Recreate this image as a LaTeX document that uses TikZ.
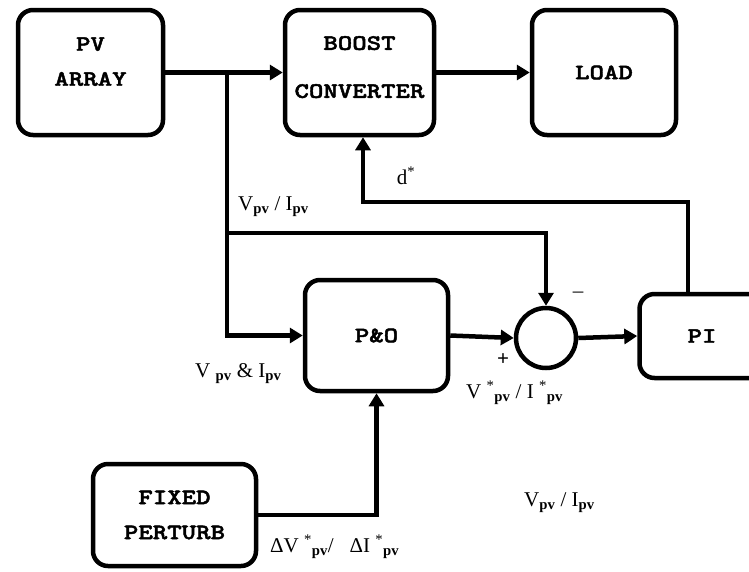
\documentclass[tikz,border=0pt]{standalone}
\usepackage{fontspec}
\setmainfont{Liberation Serif}
\newfontfamily\boxfont{lmmonolt10-bold.otf}[FakeStretch=1.25,FakeBold=2]
\usetikzlibrary{arrows.meta,positioning,calc}
\newcommand{\pvsub}{\textsubscript{\textbf{pv}}}
\newcommand{\pvstar}{\textsuperscript{*}\textsubscript{\textbf{pv}}}
\tikzset{
  blk/.style ={rectangle, rounded corners=15pt, draw=black, line width=4.5pt,
               align=center, inner sep=0pt,
               font=\boxfont\fontsize{22}{35}\selectfont},
  sumnode/.style={circle, draw=black, line width=4.5pt, minimum size=60pt, inner sep=0pt},
  sigline/.style={line width=4.5pt, line join=miter},
  sigarr/.style ={sigline, -{Triangle[length=13pt,width=15pt]}},
  siglbl/.style ={font=\fontsize{21}{23}\selectfont, inner sep=0pt},
}
\begin{document}
\begin{tikzpicture}[x=1pt, y=-1pt]
\useasboundingbox (0,0) rectangle (749,571);
% blocks
\node[blk, minimum width=145pt, minimum height=125pt, text depth=22pt] (pv) at (90.5,72.5) {PV\\ARRAY};
\node[blk, minimum width=149pt, minimum height=125pt, text depth=11pt] (boost) at (359.5,72.5) {BOOST\\[13pt]CONVERTER};
\node[blk, minimum width=144pt, minimum height=125pt] (load) at (604,72.5) {LOAD};
\node[blk, minimum width=143pt, minimum height=111pt] (po) at (376.5,335.5) {P\&O};
\node[sumnode] (sum) at (546,338) {};
\node[blk, minimum width=125pt, minimum height=84pt] (pi) at (702,336) {PI};
\node[blk, minimum width=163pt, minimum height=102pt] (fixed) at (174.5,515) {FIXED\\PERTURB};
% signal paths
\coordinate (jtap) at (227,72.5);
\coordinate (jmid) at (227,233);
\coordinate (fbtop) at (688,202);
\coordinate (fbleft) at (363,202);
\draw[sigarr] (pv.east) -- (boost.west);
\draw[sigarr] (boost.east) -- (load.west);
\draw[sigarr] (jtap) |- (po.west);
\draw[sigarr] (jmid) -| (sum.north);
\draw[sigarr] (po.east) -- (sum.west);
\draw[sigarr] (sum.east) -- (pi.west);
\draw[sigarr] (fbtop |- pi.north) -- (fbtop) -- (fbleft) -- (fbleft |- boost.south);
\draw[sigarr] (fixed.east) -| (po.south);
% labels
\node[siglbl, anchor=west] (lvi) at (238,207) {V\pvsub{} / I\pvsub};
\node[siglbl] (ld) at (406,176) {d\textsuperscript{*}};
\node[siglbl] (lminus) at (578,295) {--};
\node[siglbl] (lplus) at (503,360) {\textbf{+}};
\node[siglbl, anchor=west] (lvand) at (195,374) {V\ \pvsub{}\ \& I\pvsub};
\node[siglbl, anchor=west] (lvref) at (466,393) {V\ \pvstar{} / I\ \pvstar};
\node[siglbl, anchor=west] (ldelta) at (270,547) {ΔV\ \pvstar{}/ \ \ ΔI\ \pvstar};
\node[siglbl, anchor=west] (lvi2) at (524,503) {V\pvsub{} / I\pvsub};
\end{tikzpicture}
\end{document}
